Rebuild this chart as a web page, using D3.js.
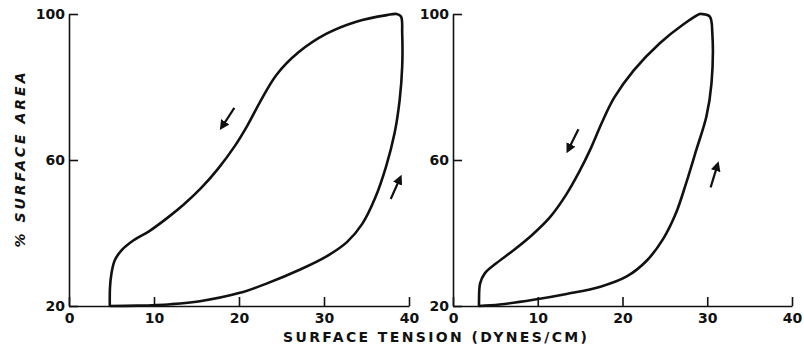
<!DOCTYPE html>
<html>
<head>
<meta charset="utf-8">
<script src="https://cdn.jsdelivr.net/npm/d3@7"></script>
<style>
  body { margin: 0; background: #fff; }
  svg { display: block; }
  .axis path, .axis line { stroke: #111; stroke-width: 1.6px; }
  .axis text { font-family: "DejaVu Sans", sans-serif; font-weight: bold; font-size: 14px; fill: #111; }
  .title { font-family: "DejaVu Sans", sans-serif; font-weight: bold; font-size: 14px; fill: #111; }
</style>
</head>
<body>
<svg width="804" height="344"></svg>
<script>
// surface tension (dynes/cm), % surface area
const leftLoop = [
  [4.8, 20], [4.82, 25], [5.0, 29], [5.4, 32.6], [6.2, 35.3], [7.6, 38.0], [9.5, 40.6],
  [11.5, 44.0], [13.5, 47.8], [15.5, 52.2], [17.5, 57.5], [19.5, 63.8], [21, 69.5],
  [22.5, 76], [24.4, 83.3], [27, 89.5], [30.3, 94.6], [33.8, 97.9], [37.4, 99.7],
  [38.55, 100], [39.06, 99.3], [39.2, 94.7], [39.2, 85.6], [38.9, 76.4], [38.3, 67.3],
  [37.3, 58.2], [36.0, 49.5], [34.5, 42.5], [32.7, 37.5], [30.3, 33.6], [27.2, 30.0],
  [23.3, 26.2], [20.1, 23.6], [15.4, 21.3], [12, 20.5], [8, 20.1], [4.8, 20]
]
const rightLoop = [
  [3.07, 20], [3.07, 21.6], [3.2, 26.2], [3.77, 29], [5.1, 31.7], [7.1, 35.2], [9.3, 39.4],
  [11.4, 44.2], [13.3, 50.3], [14.9, 56.8], [16.3, 63.4], [17.6, 70.4], [19.0, 77.0],
  [21.3, 84.5], [24.4, 92], [27.2, 97.2], [29.1, 100], [29.35, 100], [30.3, 99.3],
  [30.6, 94.7], [30.5, 81.0], [29.9, 71.9], [28.7, 62.7], [27.5, 53.6], [26.3, 45.4],
  [24.8, 38.4], [22.85, 32.4], [20.5, 28.1], [17.4, 25.3], [13.4, 23.3], [9.5, 21.7],
  [5.5, 20.4], [3.07, 20]
]
// direction arrows: [from, to]
const leftArrows = [[[19.45, 74.3], [18.0, 69.1]], [[37.85, 49.3], [38.94, 55.0]]]
const rightArrows = [[[14.8, 68.4], [13.6, 62.8]], [[30.4, 52.5], [31.2, 58.6]]]

const xTicks = [0, 10, 20, 30, 40]
const yTicks = [20, 60, 100]

const svg = d3.select("svg")

svg.append("defs").append("marker")
    .attr("id", "head")
    .attr("viewBox", "0 -5 10 10")
    .attr("refX", 6)
    .attr("refY", 0)
    .attr("markerWidth", 4.5)
    .attr("markerHeight", 4.5)
    .attr("orient", "auto")
    .append("path")
    .attr("d", "M0,-5L10,0L0,5Z")
    .attr("fill", "#111")

const y = d3.scaleLinear().domain([20, 100]).range([306, 14])

function panel(x0, x1, loop, arrows) {
    const x = d3.scaleLinear().domain([0, 40]).range([x0, x1])
    const g = svg.append("g")

    g.append("g")
        .attr("class", "axis")
        .attr("transform", "translate(0,306)")
        .call(d3.axisBottom(x).tickValues(xTicks).tickFormat(d3.format("d"))
            .tickSize(-9).tickSizeOuter(0).tickPadding(7))
        .call(a => a.selectAll("text").attr("dy", "0.71em"))

    g.append("g")
        .attr("class", "axis")
        .attr("transform", "translate(" + x0 + ",0)")
        .call(d3.axisLeft(y).tickValues(yTicks).tickFormat(d3.format("d"))
            .tickSize(-9).tickSizeOuter(0).tickPadding(4))

    const line = d3.line()
        .x(d => x(d[0]))
        .y(d => y(d[1]))
        .curve(d3.curveCatmullRom.alpha(0.5))

    g.append("path")
        .datum(loop)
        .attr("d", line)
        .attr("fill", "none")
        .attr("stroke", "#111")
        .attr("stroke-width", 2.6)
        .attr("stroke-linejoin", "round")

    g.selectAll(".arrow")
        .data(arrows)
        .enter()
        .append("line")
        .attr("class", "arrow")
        .attr("x1", d => x(d[0][0]))
        .attr("y1", d => y(d[0][1]))
        .attr("x2", d => x(d[1][0]))
        .attr("y2", d => y(d[1][1]))
        .attr("stroke", "#111")
        .attr("stroke-width", 2.2)
        .attr("marker-end", "url(#head)")
}

panel(69, 409, leftLoop, leftArrows)
panel(453, 792, rightLoop, rightArrows)

svg.append("text")
    .attr("class", "title")
    .attr("x", 283)
    .attr("y", 342)
    .attr("textLength", 304)
    .attr("lengthAdjust", "spacing")
    .text("SURFACE TENSION (DYNES/CM)")

svg.append("text")
    .attr("class", "title")
    .attr("transform", "translate(25,160) rotate(-90)")
    .attr("text-anchor", "middle")
    .attr("font-style", "italic")
    .attr("font-size", "15px")
    .attr("textLength", 175)
    .attr("lengthAdjust", "spacing")
    .text("% SURFACE AREA")
</script>
</body>
</html>
